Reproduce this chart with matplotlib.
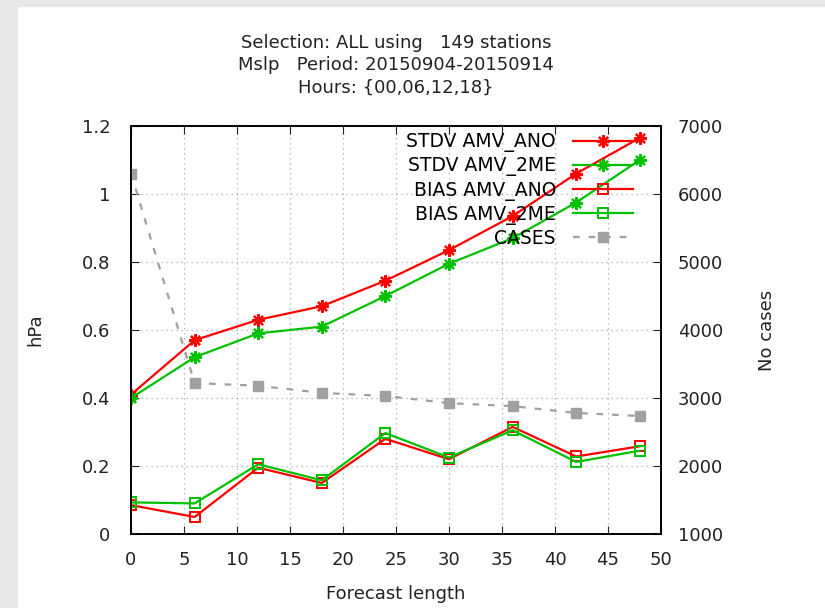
import matplotlib
matplotlib.use('Agg')
import matplotlib.pyplot as plt
from matplotlib.patches import Rectangle

# forecast lengths (hours)
fclen = [0, 6, 12, 18, 24, 30, 36, 42, 48]

# scores in hPa
stdv_ano = [0.41, 0.57, 0.63, 0.67, 0.745, 0.835, 0.935, 1.06, 1.165]
stdv_2me = [0.40, 0.52, 0.59, 0.61, 0.70, 0.795, 0.87, 0.975, 1.10]
bias_ano = [0.085, 0.05, 0.195, 0.15, 0.28, 0.22, 0.315, 0.228, 0.258]
bias_2me = [0.093, 0.09, 0.205, 0.158, 0.297, 0.225, 0.305, 0.212, 0.245]

# number of cases
cases = [6300, 3220, 3180, 3075, 3030, 2925, 2880, 2780, 2735]

title_txt = 'Selection: ALL using   149 stations\nMslp   Period: 20150904-20150914\nHours: {00,06,12,18}'

red = '#ff0000'
green = '#00c000'
grey = '#a0a0a0'

plt.rcParams['font.family'] = ['DejaVu Sans']
plt.rcParams['font.size'] = 12

fig = plt.figure(figsize=(8.25, 6.08), dpi=100)
# light grey frame at top and left, like the screenshot
fig.patches.append(Rectangle((0, 0), 17/825, 1, transform=fig.transFigure,
                             color='#e8e8e8', zorder=-10))
fig.patches.append(Rectangle((0, 1 - 6/608), 1, 6/608, transform=fig.transFigure,
                             color='#e8e8e8', zorder=-10))

ax1 = fig.add_axes([131/825, 1 - 534/608, (661-131)/825, (534-126)/608])
ax2 = ax1.twinx()

star = (8, 2, 0)
l1, = ax1.plot(fclen, stdv_ano, color=red, lw=1.6, marker=star, ms=9, mew=1.6,
               label='STDV AMV_ANO')
l2, = ax1.plot(fclen, stdv_2me, color=green, lw=1.6, marker=star, ms=9, mew=1.6,
               label='STDV AMV_2ME')
l3, = ax1.plot(fclen, bias_ano, color=red, lw=1.6, marker='s', ms=7, mew=1.4,
               mfc='none', label='BIAS AMV_ANO')
l4, = ax1.plot(fclen, bias_2me, color=green, lw=1.6, marker='s', ms=7, mew=1.4,
               mfc='none', label='BIAS AMV_2ME')
l5, = ax2.plot(fclen, cases, color=grey, lw=1.6, ls=(0, (3, 4)), marker='s', ms=7,
               label='CASES')

ax1.set_xlim(0, 50)
ax1.set_ylim(0, 1.2)
ax2.set_ylim(1000, 7000)
ax1.set_xticks(range(0, 51, 5))
ax1.set_yticks([0, 0.2, 0.4, 0.6, 0.8, 1, 1.2])
ax1.set_yticklabels(['0', '0.2', '0.4', '0.6', '0.8', '1', '1.2'])
ax2.set_yticks(range(1000, 7001, 1000))

ax1.grid(True, color='#a8a8a8', ls=(0, (1, 3)), lw=0.9)
ax1.tick_params(axis='x', direction='in', top=True, length=6, pad=12, labelsize=13,
                colors='#222222')
ax1.tick_params(axis='y', direction='in', length=6, pad=15, labelsize=13,
                colors='#222222')
ax2.tick_params(axis='y', direction='in', length=6, pad=12, labelsize=13,
                colors='#222222')
for ax in (ax1, ax2):
    for s in ax.spines.values():
        s.set_linewidth(1.2)

ax1.set_xlabel('Forecast length', fontsize=13, labelpad=12, color='#222222')
ax1.set_ylabel('hPa', fontsize=13, labelpad=27, color='#222222')
ax2.set_ylabel('No cases', fontsize=13, labelpad=25, color='#222222')
ax1.set_title(title_txt, fontsize=13, linespacing=1.3, pad=24, color='#222222')

ax2.legend([l1, l2, l3, l4, l5], [h.get_label() for h in [l1, l2, l3, l4, l5]],
           loc='upper right', bbox_to_anchor=(0.968, 1.012), frameon=False,
           markerfirst=False, handlelength=3.2, fontsize=13.5, labelspacing=0.22,
           borderaxespad=0.2, handletextpad=0.9)

fig.savefig('out.png', dpi=100)
